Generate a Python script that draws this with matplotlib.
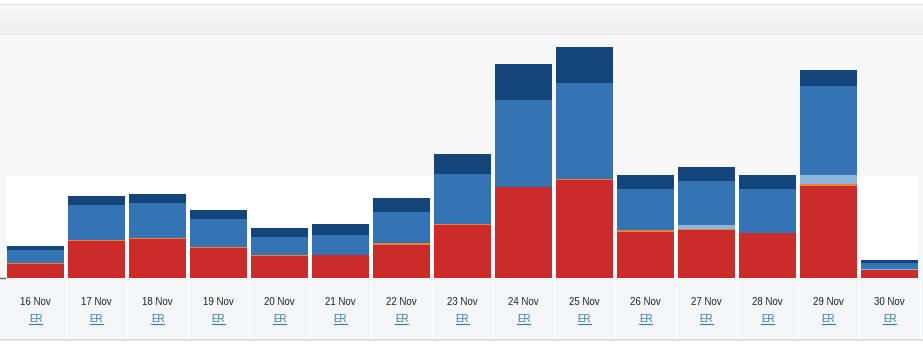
import numpy as np
import matplotlib
matplotlib.use("Agg")
import matplotlib.pyplot as plt

plt.rcParams['font.family'] = ['Liberation Sans', 'DejaVu Sans']

# daily values (arbitrary units)
days = ["16 Nov", "17 Nov", "18 Nov", "19 Nov", "20 Nov", "21 Nov", "22 Nov", "23 Nov",
        "24 Nov", "25 Nov", "26 Nov", "27 Nov", "28 Nov", "29 Nov", "30 Nov"]
red = [13.5, 37, 38.7, 30, 21.5, 22.5, 33, 53, 90.5, 98, 46, 47.5, 44.5, 91.5, 8]
orange = [1, 1, 1, 1, 1, 0.5, 1.5, 0.5, 0.5, 1, 1.5, 1, 0.3, 2, 0]
lightblue = [0, 0, 0, 0, 0, 0, 0, 0, 0, 0, 0, 3.7, 0, 9, 1]
blue = [13.5, 35, 35.3, 28, 18, 20, 31, 50, 87, 95.5, 41.5, 44, 44, 89.3, 5.5]
navy = [3.5, 9, 8.7, 8.7, 9, 11, 14, 20, 36, 36, 13.7, 14.3, 14, 15.7, 3.5]

series = [red, orange, lightblue, blue, navy]
colors = ["#cb2c2a", "#e8833a", "#8ab6dc", "#3574b4", "#14457a"]

W, H = 923, 347
fig = plt.figure(figsize=(W / 100, H / 100), dpi=100)
fig.patch.set_facecolor("white")

# background panel (pixel coords)
bg = fig.add_axes([0, 0, 1, 1])
bg.set_xlim(0, W)
bg.set_ylim(H, 0)
bg.axis("off")
bg.add_patch(plt.Rectangle((0, 34), W, 306, color="#f7f7f7", lw=0))
grad = np.linspace(0, 1, 50).reshape(-1, 1)
bg.imshow(grad, extent=(0, W, 33, 4), cmap=matplotlib.colors.LinearSegmentedColormap.from_list(
    "hd", ["#f9f9f9", "#eeeeee"]), aspect="auto", zorder=1)
bg.plot([0, W], [3.5, 3.5], color="#e3e3e3", lw=1, zorder=2)
bg.plot([0, W], [33.5, 33.5], color="#d9d9d9", lw=1, zorder=2)
bg.plot([0, W], [34.5, 34.5], color="#ffffff", lw=1, zorder=2)
bg.add_patch(plt.Rectangle((0, 278), W, 61, color="#f4f5f6", lw=0))
for k in range(15):
    bg.plot([65.5 + 61 * k, 65.5 + 61 * k], [279, 338], color="#ffffff", lw=1)
bg.plot([0, W], [339.5, 339.5], color="#dcdcdc", lw=1.2)
bg.plot([0, 5], [277.5, 277.5], color="#666666", lw=1)
bg.set_xlim(0, W)
bg.set_ylim(H, 0)

# bar axes
base_px, top_px = 277.5, 35
ax = fig.add_axes([0, (H - base_px) / H, 1, (base_px - top_px) / H])
ax.patch.set_alpha(0)
ax.set_xlim(-35.5 / 61, (W - 35.5) / 61)
ax.set_ylim(0, base_px - top_px)
ax.axis("off")

x = np.arange(len(days))
ax.add_patch(plt.Rectangle((-0.475, 0), 14.95, 101.5, color="white", lw=0, zorder=0))
bottom = np.zeros(len(days))
for vals, c in zip(series, colors):
    ax.bar(x, vals, 0.94, bottom=bottom, color=c, linewidth=0, zorder=2)
    bottom += np.array(vals)

span = base_px - top_px
tr = ax.get_xaxis_transform()
for i, d in enumerate(days):
    ax.text(i, -(302 - base_px) / span, d, ha="center", va="center",
            fontsize=7, color="#222222", transform=tr, clip_on=False)
    ax.text(i, -(319 - base_px) / span, "ER", ha="center", va="center",
            fontsize=7, color="#357ca8", transform=tr, clip_on=False)
    ax.plot([i - 0.105, i + 0.105], [-(323.5 - base_px) / span] * 2, color="#357ca8",
            lw=0.8, transform=tr, clip_on=False)

fig.savefig("out.png", dpi=100)
